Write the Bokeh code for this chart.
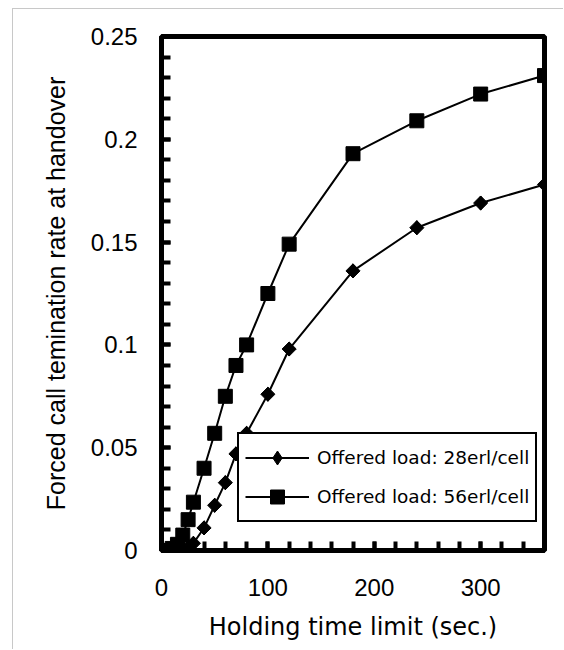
import numpy as np
from bokeh.plotting import figure
from bokeh.models import (FixedTicker, CustomJSTickFormatter, Legend, LegendItem,
                          Range1d)
from bokeh.embed import file_html
from bokeh.resources import INLINE

# ---- data ----
x_28 = [0, 10, 15, 20, 25, 30, 40, 50, 60, 70, 80, 100, 120, 180, 240, 300, 360]
y_28 = [0, 0, 0, 0.0005, 0.0015, 0.0035, 0.011, 0.022, 0.033, 0.047, 0.057,
        0.076, 0.098, 0.136, 0.157, 0.169, 0.178]
x_56 = [0, 5, 10, 15, 20, 25, 30, 40, 50, 60, 70, 80, 100, 120, 180, 240, 300, 360]
y_56 = [0, 0, 0.001, 0.003, 0.0075, 0.015, 0.0235, 0.040, 0.057, 0.075, 0.090,
        0.100, 0.125, 0.149, 0.193, 0.209, 0.222, 0.231]
label_28 = "Offered load: 28erl/cell"
label_56 = "Offered load: 56erl/cell"
x_major = [0, 100, 200, 300]
x_minor = list(range(0, 361, 20))
y_major = [0, 0.05, 0.1, 0.15, 0.2, 0.25]
y_minor = [i / 100 for i in range(0, 26)]

p = figure(width=551, height=641, x_range=Range1d(0, 360), y_range=Range1d(0, 0.25),
           output_backend="svg", toolbar_location=None,
           min_border_left=148, min_border_right=20, min_border_top=27,
           min_border_bottom=100)
p.styles = {"border-left": "1px solid #c8c8c8", "border-top": "1px solid #c8c8c8",
            "margin-left": "12px", "margin-top": "8px"}

p.xgrid.grid_line_color = None
p.ygrid.grid_line_color = None
p.outline_line_color = "black"
p.outline_line_width = 5
p.background_fill_color = "white"
p.border_fill_color = "white"

for ax in (p.xaxis[0], p.yaxis[0]):
    ax.axis_line_color = "black"
    ax.axis_line_width = 5
    ax.major_tick_in = 9
    ax.major_tick_out = 0
    ax.minor_tick_in = 9
    ax.minor_tick_out = 0
    ax.major_tick_line_width = 4
    ax.minor_tick_line_width = 4
    ax.major_tick_line_color = "black"
    ax.minor_tick_line_color = "black"
    ax.major_label_text_font = "Liberation Sans"
    ax.major_label_text_font_size = "24px"
    ax.major_label_text_color = "black"
    ax.axis_label_text_font_style = "normal"
    ax.axis_label_text_color = "black"

p.xaxis.ticker = FixedTicker(ticks=x_major, minor_ticks=x_minor)
p.yaxis.ticker = FixedTicker(ticks=y_major, minor_ticks=y_minor)
p.yaxis.formatter = CustomJSTickFormatter(code="return String(Math.round(tick*100)/100);")
p.xaxis.major_label_standoff = 28
p.yaxis.major_label_standoff = 24

p.xaxis.axis_label = "Holding time limit (sec.)"
p.xaxis.axis_label_text_font = "DejaVu Sans"
p.xaxis.axis_label_text_font_size = "24px"
p.xaxis.axis_label_standoff = 14

p.yaxis.axis_label = "Forced call temination rate at handover"
p.yaxis.axis_label_text_font = "Liberation Sans"
p.yaxis.axis_label_text_font_size = "25px"
p.yaxis.axis_label_standoff = 18

l28 = p.line(x_28, y_28, line_color="black", line_width=2)
# diamond glyph used by the legend (hidden beneath the rotated-square markers)
d28 = p.scatter(x_28, y_28, marker="diamond", size=14, color="black")
m28 = p.scatter(x_28, y_28, marker="square", angle=np.pi / 4, size=10, color="black")
l56 = p.line(x_56, y_56, line_color="black", line_width=2)
m56 = p.scatter(x_56, y_56, marker="square", size=14, color="black")

legend = Legend(items=[LegendItem(label=label_28, renderers=[l28, d28]),
                       LegendItem(label=label_56, renderers=[l56, m56])],
                location=(76, 28))
legend.border_line_color = "black"
legend.border_line_width = 2
legend.border_line_alpha = 1
legend.background_fill_color = "white"
legend.background_fill_alpha = 1
legend.padding = 6
legend.spacing = 4
legend.margin = 0
legend.glyph_width = 64
legend.glyph_height = 35
legend.label_standoff = 8
legend.label_height = 35
legend.label_text_font = "DejaVu Sans"
legend.label_text_font_size = "18.5px"
legend.label_text_color = "black"
p.add_layout(legend)

open("out.html", "w").write(file_html(p, INLINE))
